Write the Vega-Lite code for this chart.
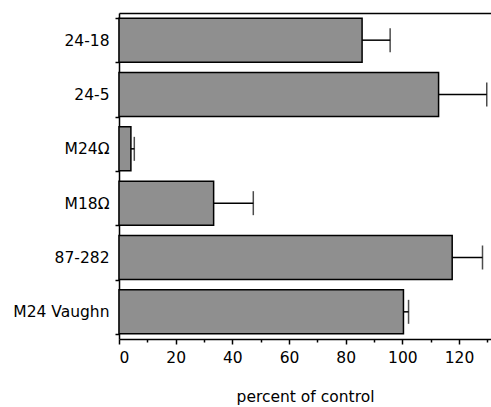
{
  "$schema": "https://vega.github.io/schema/vega-lite/v6.json",
  "width": 372,
  "height": 326,
  "autosize": "none",
  "padding": {"left": 119, "top": 13, "right": 0, "bottom": 68},
  "background": "white",
  "data": {
    "values": [
      {"label": "24-18", "value": 85.8, "err": 95.7},
      {"label": "24-5", "value": 112.8, "err": 129.8},
      {"label": "M24Ω", "value": 4.2, "err": 5.4},
      {"label": "M18Ω", "value": 33.4, "err": 47.4},
      {"label": "87-282", "value": 117.6, "err": 128.3},
      {"label": "M24 Vaughn", "value": 100.4, "err": 102.2}
    ]
  },
  "encoding": {
    "y": {
      "field": "label",
      "type": "nominal",
      "sort": null,
      "scale": {"paddingInner": 0.19, "paddingOuter": 0.095},
      "axis": {
        "title": null,
        "domainColor": "black",
        "domainWidth": 1.5,
        "tickColor": "black",
        "tickWidth": 1.5,
        "tickSize": 4,
        "tickBand": "extent",
        "labelFont": "DejaVu Sans",
        "labelFontSize": 15.5,
        "labelColor": "black",
        "labelPadding": 6
      }
    }
  },
  "layer": [
    {
      "mark": {"type": "bar", "fill": "#8f8f8f", "stroke": "black", "strokeWidth": 1.5},
      "encoding": {
        "x": {
          "field": "value",
          "type": "quantitative",
          "scale": {"domain": [0, 131.3], "nice": false, "zero": true},
          "axis": {
            "values": [0, 20, 40, 60, 80, 100, 120],
            "grid": false,
            "domainColor": "black",
            "domainWidth": 1.5,
            "tickColor": "black",
            "tickWidth": 1.5,
            "tickSize": 5,
            "labelFont": "DejaVu Sans",
            "labelFontSize": 15.5,
            "labelColor": "black",
            "labelPadding": 6,
            "title": "percent of control",
            "titleFont": "DejaVu Sans",
            "titleFontSize": 15.5,
            "titleFontWeight": "normal",
            "titleColor": "black",
            "titlePadding": 24
          }
        }
      }
    },
    {
      "mark": {"type": "rule", "color": "black", "strokeWidth": 1.5},
      "encoding": {
        "x": {
          "field": "value",
          "type": "quantitative",
          "axis": {
            "orient": "bottom",
            "values": [10, 30, 50, 70, 90, 110, 130],
            "grid": false,
            "domain": false,
            "labels": false,
            "title": null,
            "tickColor": "black",
            "tickWidth": 1.5,
            "tickSize": 3
          }
        },
        "x2": {"field": "err"}
      }
    },
    {
      "mark": {"type": "tick", "color": "black", "size": 24, "thickness": 1.5},
      "encoding": {
        "x": {
          "field": "err",
          "type": "quantitative",
          "axis": {
            "orient": "top",
            "grid": false,
            "ticks": false,
            "labels": false,
            "title": null,
            "domainColor": "black",
            "domainWidth": 1.5
          }
        }
      }
    }
  ],
  "resolve": {"axis": {"x": "independent"}},
  "config": {"view": {"stroke": null}}
}
